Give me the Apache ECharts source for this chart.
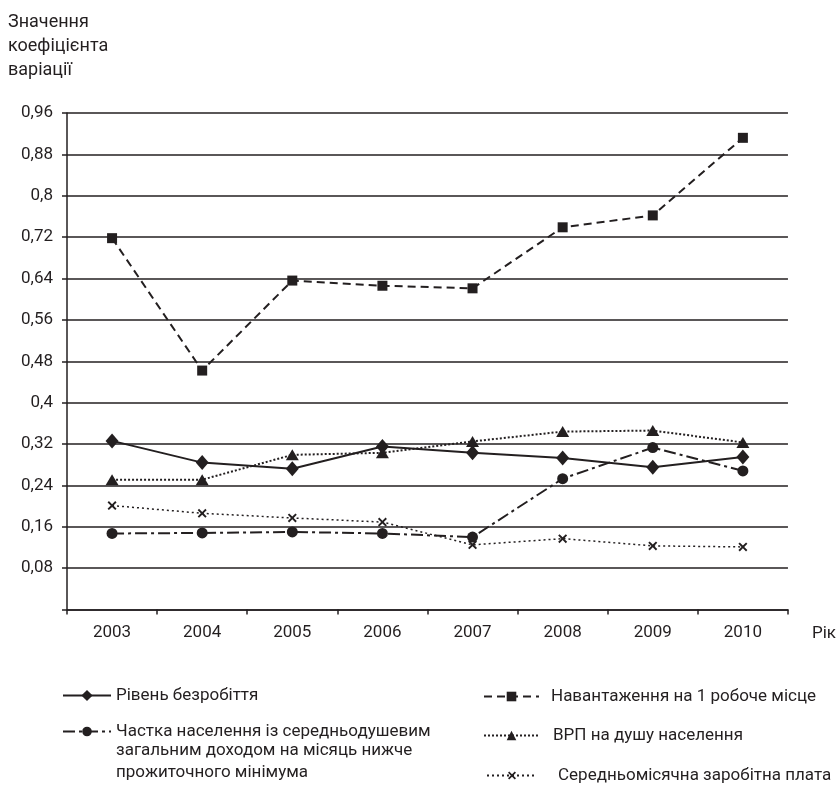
<!DOCTYPE html>
<html>
<head>
<meta charset="utf-8">
<script src="https://cdn.jsdelivr.net/npm/echarts@6/dist/echarts.min.js"></script>
<style>
  html, body { margin: 0; padding: 0; background: #fff; }
  #chart { width: 839px; height: 794px; }
</style>
</head>
<body>
<div id="chart"></div>
<script>
// роки
var years = ['2003', '2004', '2005', '2006', '2007', '2008', '2009', '2010'];

// значення коефіцієнта варіації
var rivenBezrobittya = [0.326, 0.284, 0.272, 0.315, 0.303, 0.293, 0.275, 0.295];
var navantazhennya = [0.718, 0.462, 0.636, 0.626, 0.621, 0.739, 0.762, 0.912];
var chastkaNaselennya = [0.147, 0.148, 0.150, 0.147, 0.140, 0.253, 0.313, 0.268];
var vrpNaDushu = [0.251, 0.251, 0.299, 0.303, 0.325, 0.344, 0.346, 0.323];
var zarplata = [0.201, 0.186, 0.177, 0.169, 0.125, 0.137, 0.123, 0.121];

var names = [
    'Рівень безробіття',
    'Навантаження на 1 робоче місце',
    'Частка населення із середньодушевим загальним доходом на місяць нижче прожиточного мінімума',
    'ВРП на душу населення',
    'Середньомісячна заробітна плата'
];

var FONT = 'Roboto, "DejaVu Sans Condensed", sans-serif';
var FS = 17;
var INK = '#231f20';
var crossPath = 'path://M0,1.5L1.5,0L5,3.5L8.5,0L10,1.5L6.5,5L10,8.5L8.5,10L5,6.5L1.5,10L0,8.5L3.5,5Z';

var textStyle = { fontFamily: FONT, fontSize: FS, color: INK };
function padText(left) {
    return { fontFamily: FONT, fontSize: FS, color: INK, padding: [0, 0, 0, left] };
}

var myChart = echarts.init(document.getElementById('chart'));

var option = {
    animation: false,
    backgroundColor: '#fff',
    textStyle: textStyle,
    title: {
        text: 'Значення\nкоефіцієнта\nваріації',
        left: 3,
        top: 5,
        textStyle: { fontFamily: FONT, fontSize: FS + 1, fontWeight: 'normal', color: INK, lineHeight: 24 }
    },
    grid: { left: 67, right: 49, top: 113, bottom: 184.5 },
    xAxis: {
        type: 'category',
        data: years,
        boundaryGap: true,
        name: 'Рік',
        nameLocation: 'end',
        nameGap: 24,
        nameTextStyle: { fontFamily: FONT, fontSize: FS, color: INK, verticalAlign: 'top', padding: [16, 0, 0, 0] },
        axisLine: { lineStyle: { color: INK, width: 1.5 } },
        axisTick: { show: true, length: 5, lineStyle: { color: INK, width: 1.5 } },
        axisLabel: { margin: 15, fontFamily: FONT, fontSize: FS, color: INK },
        splitLine: { show: false }
    },
    yAxis: {
        type: 'value',
        min: 0,
        max: 0.96,
        interval: 0.08,
        axisLine: { show: true, lineStyle: { color: INK, width: 1.5 } },
        axisTick: { show: true, length: 5, lineStyle: { color: INK, width: 1.5 } },
        axisLabel: {
            margin: 14,
            fontFamily: FONT, fontSize: FS, color: INK,
            formatter: function (v) {
                if (v === 0) return '';
                return String(+v.toFixed(2)).replace('.', ',');
            }
        },
        splitLine: { show: true, lineStyle: { color: INK, width: 1.5 } }
    },
    legend: [
        { left: 57, top: 682, itemWidth: 48, itemHeight: 14, selectedMode: false,
          data: [names[0]], textStyle: textStyle },
        { left: 478, top: 683, itemWidth: 55, itemHeight: 12, selectedMode: false,
          data: [names[1]], textStyle: padText(7) },
        { left: 57, top: 718, itemWidth: 48, itemHeight: 12, selectedMode: false,
          data: [names[2]], textStyle: textStyle,
          formatter: function () { return 'Частка населення із середньодушевим'; } },
        { left: 478, top: 722, itemWidth: 55, itemHeight: 12, selectedMode: false,
          data: [names[3]], textStyle: padText(9) },
        { left: 481, top: 762, itemWidth: 50, itemHeight: 10, selectedMode: false,
          data: [names[4]], textStyle: padText(16) }
    ],
    graphic: [
        {
            type: 'text',
            left: 116,
            top: 740,
            style: {
                text: 'загальним доходом на місяць нижче\nпрожиточного мінімума',
                font: FS + 'px ' + FONT,
                fill: INK,
                lineHeight: 22
            }
        }
    ],
    series: [
        {
            name: names[0], type: 'line', data: rivenBezrobittya,
            symbol: 'diamond', symbolSize: [13, 15],
            lineStyle: { color: INK, width: 2, type: 'solid' },
            itemStyle: { color: INK }
        },
        {
            name: names[1], type: 'line', data: navantazhennya,
            symbol: 'rect', symbolSize: 10,
            lineStyle: { color: INK, width: 2, type: [8, 5] },
            itemStyle: { color: INK }
        },
        {
            name: names[2], type: 'line', data: chastkaNaselennya,
            symbol: 'circle', symbolSize: 11,
            lineStyle: { color: INK, width: 2, type: [12, 4, 3, 4] },
            itemStyle: { color: INK }
        },
        {
            name: names[3], type: 'line', data: vrpNaDushu,
            symbol: 'triangle', symbolSize: [13, 11],
            lineStyle: { color: INK, width: 2, type: [2, 2] },
            itemStyle: { color: INK }
        },
        {
            name: names[4], type: 'line', data: zarplata,
            symbol: crossPath, symbolSize: 9,
            lineStyle: { color: INK, width: 1.5, type: [2, 3] },
            itemStyle: { color: INK }
        }
    ]
};

myChart.setOption(option);
</script>
</body>
</html>
